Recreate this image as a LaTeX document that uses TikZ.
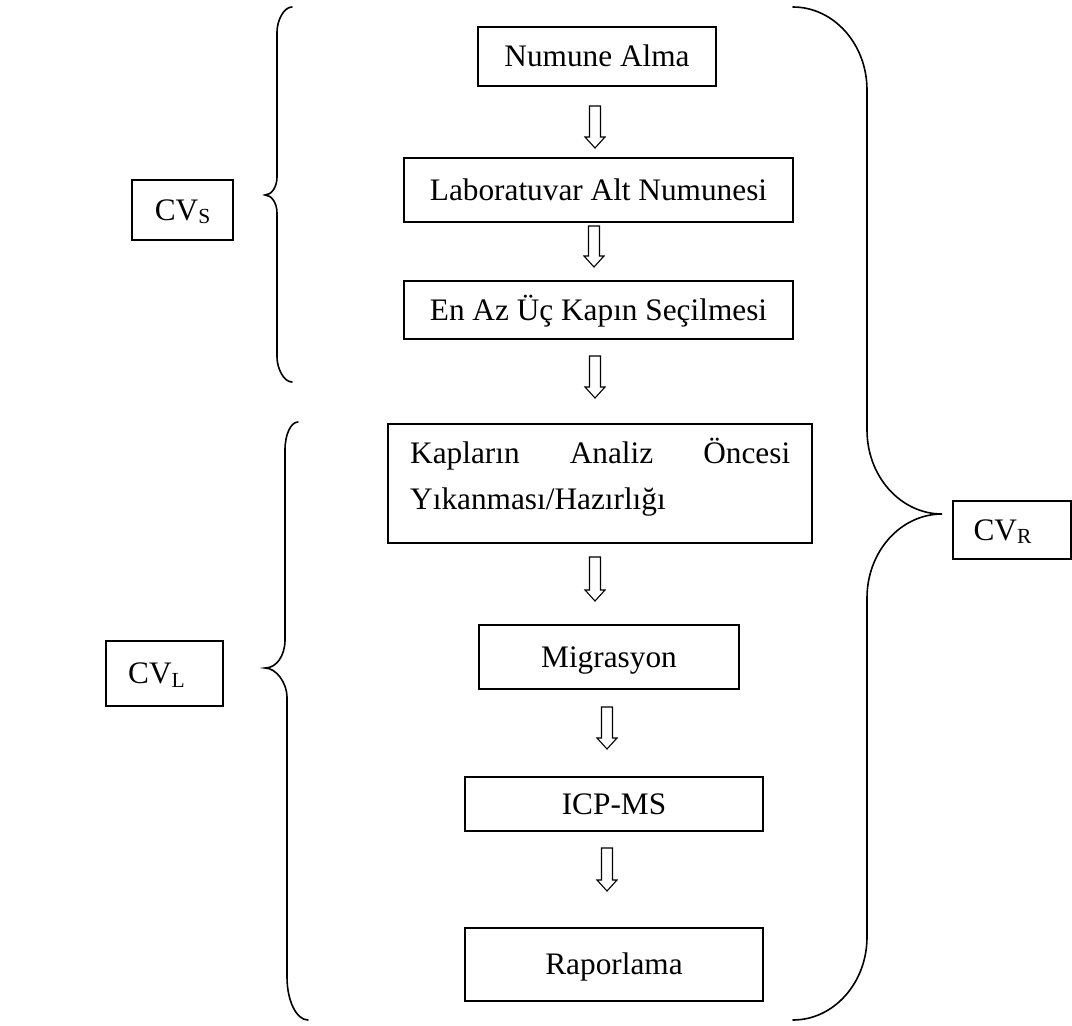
\documentclass[tikz,border=0pt]{standalone}
\usepackage{fontspec}
\setmainfont{Liberation Serif}
\newcommand\cvsub[1]{\raisebox{-3.5pt}{\fontsize{21.5}{21.5}\selectfont #1}}
\newcommand\blockarrow[3]{%
  \draw[blockarr] (#1-5.5,#2) -- (#1+5.5,#2) -- (#1+5.5,#3-11) -- (#1+10,#3-11)
    -- (#1,#3) -- (#1-10,#3-11) -- (#1-5.5,#3-11) -- cycle;}
\begin{document}
\begin{tikzpicture}[x=1pt,y=-1pt,
  box/.style={draw, line width=1.5pt, inner sep=0pt, text height=20.7pt, text depth=0pt,
    font=\fontsize{31.3}{37}\selectfont},
  blockarr/.style={draw, line width=1.1pt, fill=white, line join=miter},
  brace/.style={draw, line width=1.6pt, line cap=round}]
\useasboundingbox (0,0) rectangle (1072,1026);
\fill[white] (0,0) rectangle (1072,1026);

% process boxes
\node[box, minimum width=238pt, minimum height=59pt] (n1) at (597,56.5) {Numune Alma};
\node[box, minimum width=389pt, minimum height=64pt] (n2) at (598.5,190) {Laboratuvar Alt Numunesi};
\node[box, minimum width=389pt, minimum height=58pt] (n3) at (598.5,310) {En Az Üç Kapın Seçilmesi};
\node[box, minimum width=424pt, minimum height=119pt] (n4) at (600,483.5) {};
\node[anchor=base west, inner sep=0pt, font=\fontsize{31.3}{37}\selectfont] (n4a) at (410,463)
  {\makebox[380pt][s]{Kapların Analiz Öncesi}};
\node[anchor=base west, inner sep=0pt, font=\fontsize{31.3}{37}\selectfont] (n4b) at (410,509)
  {Yıkanması/Hazırlığı};
\node[box, minimum width=260pt, minimum height=64pt] (n5) at (609,657) {Migrasyon};
\node[box, minimum width=298pt, minimum height=54pt] (n6) at (614,804) {ICP-MS};
\node[box, minimum width=298pt, minimum height=73pt] (n7) at (614,964.5) {Raporlama};

% CV boxes
\node[box, minimum width=101pt, minimum height=60pt] (cvs) at (182.5,210) {CV\cvsub{S}};
\node[box, minimum width=117pt, minimum height=65pt] (cvl) at (164.5,673.5) {\hspace*{-16pt}CV\cvsub{L}};
\node[box, minimum width=118pt, minimum height=58pt] (cvr) at (1012,530) {\hspace*{-19pt}CV\cvsub{R}};

% block arrows
\blockarrow{595}{106}{148}
\blockarrow{594}{226}{267}
\blockarrow{595}{356}{398}
\blockarrow{595}{557}{601}
\blockarrow{607}{707}{749}
\blockarrow{607}{848}{891}

% brace for CV_S
\draw[brace] (292,7) .. controls (283.7,7) and (277,20.8) .. (277,32)
  -- (277,177) .. controls (277,186.9) and (271.6,195) .. (265,195)
  .. controls (271.6,195) and (277,203.1) .. (277,213)
  -- (277,357) .. controls (277,368.2) and (283.7,382) .. (292,382);

% brace for CV_L
\draw[brace] (298,422) .. controls (290.8,422) and (285,434.5) .. (285,450)
  -- (285,640) .. controls (285,655.5) and (276.6,668) .. (265,668)
  .. controls (276.6,668) and (287,683.5) .. (287,697)
  -- (287,977) .. controls (287,1000.7) and (296.4,1020) .. (308,1020);

% brace for CV_R
\draw[brace] (793,7) .. controls (833.8,7) and (867,44.2) .. (867,90)
  -- (867,430) .. controls (867,476.4) and (900.6,514) .. (942,514)
  .. controls (900.6,514) and (867,551.6) .. (867,598)
  -- (867,937) .. controls (867,982.8) and (833.8,1020) .. (793,1020);
\end{tikzpicture}
\end{document}
